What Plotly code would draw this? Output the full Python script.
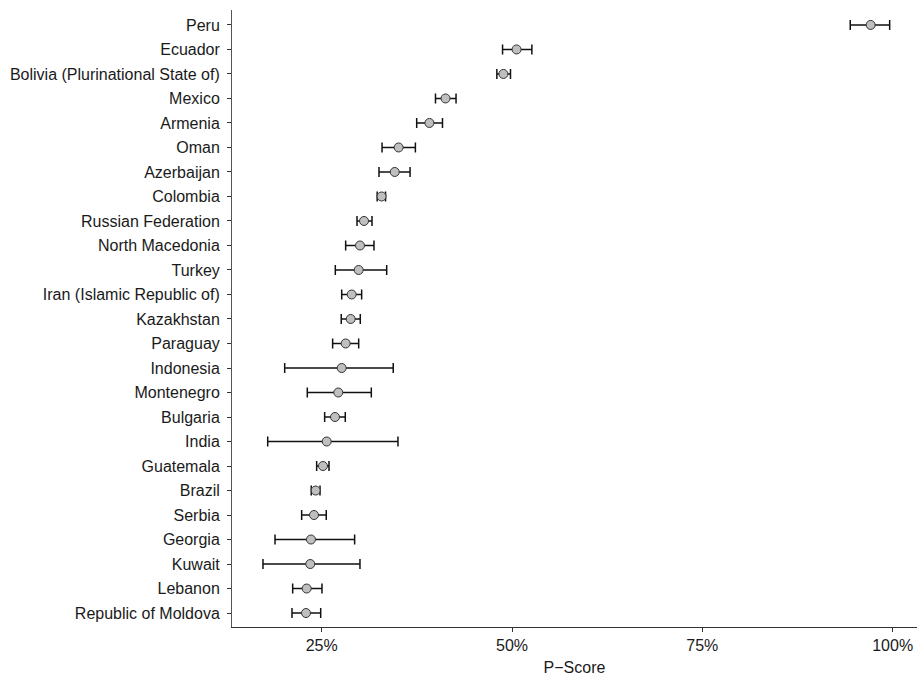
import plotly.graph_objects as go

countries = ["Peru", "Ecuador", "Bolivia (Plurinational State of)", "Mexico", "Armenia",
             "Oman", "Azerbaijan", "Colombia", "Russian Federation", "North Macedonia",
             "Turkey", "Iran (Islamic Republic of)", "Kazakhstan", "Paraguay", "Indonesia",
             "Montenegro", "Bulgaria", "India", "Guatemala", "Brazil", "Serbia", "Georgia",
             "Kuwait", "Lebanon", "Republic of Moldova"]
p_score = [97.11, 50.60, 48.87, 41.27, 39.15, 35.11, 34.60, 32.87, 30.56, 30.03,
           29.86, 28.94, 28.81, 28.15, 27.63, 27.18, 26.75, 25.66, 25.17, 24.21,
           23.99, 23.59, 23.50, 23.03, 22.94]
lower = [94.43, 48.76, 48.01, 39.95, 37.48, 32.93, 32.53, 32.29, 29.64, 28.15,
         26.79, 27.63, 27.57, 26.44, 20.14, 23.11, 25.39, 17.91, 24.34, 23.63,
         22.37, 18.87, 17.29, 21.19, 21.10]
upper = [99.61, 52.61, 49.80, 42.65, 40.87, 37.31, 36.61, 33.39, 31.61, 31.87,
         33.54, 30.25, 30.07, 29.86, 34.40, 31.52, 28.10, 35.02, 25.96, 24.78,
         25.60, 29.33, 30.03, 25.04, 24.87]
x_ticks = [25, 50, 75, 100]
x_tick_labels = ["25%", "50%", "75%", "100%"]

err_plus = [u - p for u, p in zip(upper, p_score)]
err_minus = [p - l for p, l in zip(p_score, lower)]

fig = go.Figure()
fig.add_trace(go.Scatter(
    x=p_score, y=countries, mode="markers",
    marker=dict(symbol="circle", size=9, color="#bfbfbf",
                line=dict(color="#333333", width=1)),
    error_x=dict(type="data", symmetric=False, array=err_plus, arrayminus=err_minus,
                 color="#111111", thickness=1.5, width=5),
    showlegend=False,
))

fig.update_layout(
    width=917, height=676,
    margin=dict(l=232, r=0, t=10, b=49),
    paper_bgcolor="white", plot_bgcolor="white",
    font=dict(family="Liberation Sans, Arial, sans-serif", size=16, color="#1a1a1a"),
    xaxis=dict(range=[13.22, 103.2], tickvals=x_ticks, ticktext=x_tick_labels,
               showgrid=False, zeroline=False, showline=True, linecolor="#333333",
               linewidth=1, ticks="outside", ticklen=4, tickcolor="#333333",
               tickfont=dict(size=16),
               title=dict(text="P\u2212Score", font=dict(size=16), standoff=9)),
    yaxis=dict(type="category", categoryorder="array", categoryarray=countries[::-1],
               range=[-0.57, 24.61], showgrid=False, zeroline=False, showline=True,
               linecolor="#555555", linewidth=1, ticks="outside", ticklen=4,
               tickcolor="#333333", tickfont=dict(size=16), ticklabelstandoff=4),
)

fig.write_html("out.html", config={"displayModeBar": False},
               post_script="document.body.style.margin='0';")
